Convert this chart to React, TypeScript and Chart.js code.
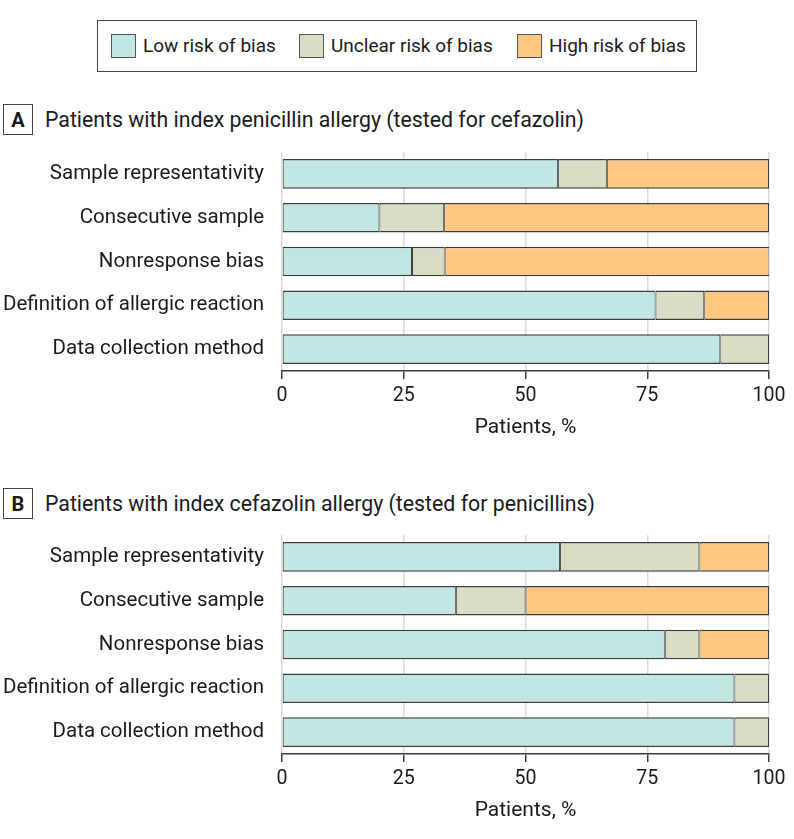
import React, { useEffect, useRef } from "react";
import { Chart, registerables } from "chart.js";

Chart.register(...registerables);

const categories = [
  "Sample representativity",
  "Consecutive sample",
  "Nonresponse bias",
  "Definition of allergic reaction",
  "Data collection method",
];

const seriesNames = ["Low risk of bias", "Unclear risk of bias", "High risk of bias"];
const seriesColors = ["#c1e7e5", "#dadcc6", "#ffc882"];

// Panel A: index penicillin allergy (tested for cefazolin)
const lowA = [56.7, 20.0, 26.7, 76.7, 90.0];
const unclearA = [10.0, 13.3, 6.7, 10.0, 10.0];
const highA = [33.3, 66.7, 66.7, 13.3, 0];

// Panel B: index cefazolin allergy (tested for penicillins)
const lowB = [57.1, 35.7, 78.6, 92.9, 92.9];
const unclearB = [28.6, 14.3, 7.1, 7.1, 7.1];
const highB = [14.3, 50.0, 14.3, 0, 0];

const xTicks = [0, 25, 50, 75, 100];
const xTitle = "Patients, %";

const titleA = "Patients with index penicillin allergy (tested for cefazolin)";
const titleB = "Patients with index cefazolin allergy (tested for penicillins)";

const FONT = "Roboto, 'Open Sans', sans-serif";
const TEXT = "#1a1a1a";

function Panel({ values, top }: { values: number[][]; top: number }) {
  const ref = useRef<HTMLCanvasElement | null>(null);
  useEffect(() => {
    if (!ref.current) return;
    const chart = new Chart(ref.current, {
      type: "bar",
      data: {
        labels: categories,
        datasets: values.map((v, i) => ({
          label: seriesNames[i],
          data: v.map((x) => (x === 0 ? null : x)),
          backgroundColor: seriesColors[i],
          borderColor: "#3c3c3c",
          borderWidth: { top: 1.5, bottom: 1.5, left: 1, right: 1 },
          borderSkipped: false,
          categoryPercentage: 1,
          barPercentage: 0.675,
        })),
      },
      options: {
        indexAxis: "y",
        animation: false,
        responsive: false,
        layout: { padding: { top: 12, right: 25, left: 0, bottom: 0 } },
        plugins: { legend: { display: false }, tooltip: { enabled: false } },
        scales: {
          x: {
            stacked: true,
            min: 0,
            max: 100,
            afterBuildTicks: (scale: any) => {
              scale.ticks = xTicks.map((v) => ({ value: v }));
            },
            afterFit: (scale: any) => {
              scale.height = 69;
              scale.paddingLeft = 0;
              scale.paddingRight = 0;
            },
            grid: {
              color: "#dadada",
              lineWidth: 1.5,
              tickColor: "#3c3c3c",
              tickLength: 8,
              drawTicks: true,
            },
            border: { display: true, color: "#3c3c3c", width: 1.5 },
            ticks: {
              color: TEXT,
              font: { family: FONT, size: 19.6 },
              padding: 5,
              maxRotation: 0,
            },
            title: {
              display: true,
              text: xTitle,
              color: TEXT,
              font: { family: FONT, size: 21 },
              padding: { top: 0, bottom: 0 },
            },
          },
          y: {
            stacked: true,
            afterFit: (scale: any) => {
              scale.width = 282;
              scale.paddingTop = 0;
              scale.paddingBottom = 0;
            },
            grid: { display: false },
            border: { display: false },
            ticks: {
              color: TEXT,
              font: { family: FONT, size: 20.5 },
              padding: 10,
            },
          },
        },
      },
    });
    return () => chart.destroy();
  }, []);
  return (
    <canvas
      ref={ref}
      width={794}
      height={300}
      style={{ position: "absolute", left: 0, top, width: 794, height: 300 }}
    />
  );
}

function Header({ letter, title, top }: { letter: string; title: string; top: number }) {
  return (
    <>
      <div
        style={{
          position: "absolute",
          left: 3,
          top,
          width: 28,
          height: 29,
          border: "1px solid #444",
          display: "flex",
          alignItems: "center",
          justifyContent: "center",
          fontWeight: 700,
          fontSize: 20,
          color: TEXT,
        }}
      >
        {letter}
      </div>
      <div
        style={{
          position: "absolute",
          left: 45,
          top,
          height: 31,
          lineHeight: "31px",
          fontSize: 21.3,
          color: TEXT,
          whiteSpace: "nowrap",
        }}
      >
        {title}
      </div>
    </>
  );
}

const legendX = [111, 299, 517];

export default function App() {
  useEffect(() => {
    document.body.style.margin = "0";
  }, []);
  return (
    <div
      style={{
        position: "relative",
        width: 794,
        height: 839,
        fontFamily: FONT,
        background: "#fff",
        overflow: "hidden",
      }}
    >
      <div
        style={{
          position: "absolute",
          left: 97,
          top: 20,
          width: 598,
          height: 50,
          border: "1px solid #444",
        }}
      />
      {seriesNames.map((name, i) => (
        <React.Fragment key={name}>
          <div
            style={{
              position: "absolute",
              left: legendX[i],
              top: 34,
              width: 23,
              height: 22,
              border: "1px solid #555",
              background: seriesColors[i],
            }}
          />
          <div
            style={{
              position: "absolute",
              left: legendX[i] + 32,
              top: 33,
              height: 26,
              lineHeight: "26px",
              fontSize: 19,
              color: TEXT,
              whiteSpace: "nowrap",
            }}
          >
            {name}
          </div>
        </React.Fragment>
      ))}
      <Header letter="A" title={titleA} top={104} />
      <Panel values={[lowA, unclearA, highA]} top={140} />
      <Header letter="B" title={titleB} top={488} />
      <Panel values={[lowB, unclearB, highB]} top={523} />
    </div>
  );
}
